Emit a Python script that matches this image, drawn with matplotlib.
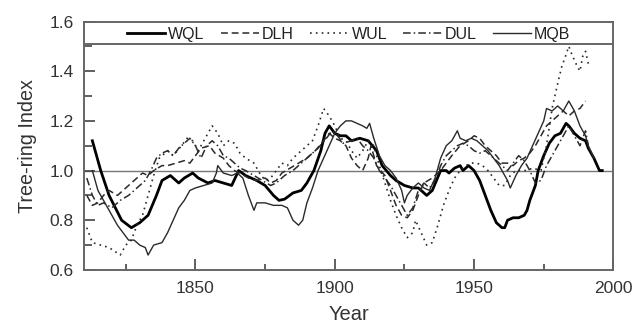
import matplotlib
matplotlib.use("Agg")
import matplotlib.pyplot as plt
import numpy as np

plt.rcParams['font.family'] = ['Liberation Sans', 'DejaVu Sans']

# ---------------- data ----------------
wql_years = [1813, 1816, 1819, 1823.5, 1827, 1830, 1833, 1836, 1838, 1841, 1844, 1846, 1849, 1851, 1854.5,
             1857, 1860, 1863, 1865.5, 1868, 1872, 1875, 1878, 1880, 1882, 1885, 1888, 1890, 1892.5,
             1895, 1896.5, 1898, 1900, 1902, 1904, 1906, 1909, 1912, 1915, 1917, 1920, 1922, 1925,
             1928, 1930, 1932, 1933, 1935, 1936.5, 1938, 1940, 1941, 1943, 1945, 1946, 1948, 1950,
             1952, 1954, 1956, 1958, 1960, 1961, 1962, 1964, 1966, 1968, 1969, 1970, 1972, 1973,
             1975, 1977, 1979, 1981, 1983, 1984, 1986, 1988, 1990, 1991, 1993, 1995, 1996]
wql_vals = [1.12, 1.00, 0.90, 0.80, 0.77, 0.79, 0.82, 0.90, 0.96, 0.98, 0.95, 0.97, 0.99, 0.97, 0.95,
            0.96, 0.95, 0.94, 1.00, 0.98, 0.96, 0.94, 0.90, 0.88, 0.885, 0.91, 0.92, 0.95, 1.00,
            1.08, 1.15, 1.18, 1.15, 1.14, 1.14, 1.12, 1.13, 1.12, 1.08, 1.02, 0.98, 0.96, 0.94,
            0.93, 0.93, 0.91, 0.90, 0.92, 0.96, 1.00, 1.00, 0.99, 1.01, 1.02, 1.00, 1.02, 1.00,
            0.96, 0.90, 0.84, 0.79, 0.77, 0.77, 0.80, 0.81, 0.81, 0.82, 0.84, 0.88, 0.94, 1.00,
            1.06, 1.11, 1.14, 1.15, 1.19, 1.18, 1.15, 1.13, 1.12, 1.09, 1.05, 1.00, 1.00]

dlh_years = [1811, 1813, 1815, 1817, 1819, 1822, 1825, 1828, 1831, 1833, 1835, 1838, 1840, 1843, 1846,
             1848, 1850, 1852, 1855, 1857, 1860, 1862, 1864, 1866, 1869, 1872, 1875, 1877, 1879,
             1881, 1884, 1887, 1890, 1893, 1896, 1898, 1900, 1902, 1904, 1906, 1908, 1910, 1912,
             1913, 1915, 1918, 1920, 1922, 1924, 1926, 1928, 1930, 1932, 1935, 1938, 1940, 1942,
             1945, 1948, 1950, 1952, 1954, 1956, 1958, 1960, 1962, 1964, 1966, 1968, 1970, 1972,
             1974, 1976, 1978, 1980, 1982, 1984, 1986, 1988, 1990]
dlh_vals = [0.90, 0.86, 0.87, 0.90, 0.92, 0.90, 0.93, 0.96, 0.99, 0.98, 1.00, 1.02, 1.02, 1.03, 1.04,
            1.03, 1.06, 1.09, 1.10, 1.07, 1.05, 1.02, 1.00, 0.99, 0.97, 0.96, 0.97, 0.95, 0.96,
            0.99, 1.01, 1.03, 1.05, 1.08, 1.12, 1.15, 1.13, 1.12, 1.10, 1.05, 1.02, 1.00, 1.05,
            1.10, 1.02, 0.98, 0.92, 0.86, 0.82, 0.81, 0.84, 0.90, 0.95, 0.97, 1.00, 1.03, 1.06,
            1.10, 1.12, 1.14, 1.13, 1.10, 1.08, 1.06, 1.03, 1.03, 1.02, 1.04, 1.05, 1.07, 1.10,
            1.14, 1.18, 1.20, 1.22, 1.24, 1.22, 1.24, 1.25, 1.28]

wul_years = [1811, 1813, 1816, 1819, 1823, 1825, 1827, 1829, 1831, 1833, 1835, 1837, 1840, 1842, 1845,
             1847, 1849, 1851, 1854, 1856, 1858, 1860, 1862, 1864, 1866, 1868, 1871, 1873, 1875,
             1877, 1879, 1881, 1883, 1885, 1888, 1890, 1892, 1894, 1896, 1898, 1900, 1902, 1904,
             1906, 1908, 1910, 1912, 1914, 1916, 1918, 1920, 1922, 1924, 1926, 1928, 1929, 1931,
             1933, 1935, 1937, 1939, 1941, 1943, 1945, 1947, 1949, 1951, 1953, 1955, 1957, 1959,
             1961, 1963, 1965, 1967, 1969, 1971, 1974, 1976, 1978, 1980, 1981.5, 1982.5, 1984,
             1985, 1987, 1988, 1989, 1990, 1991]
wul_vals = [0.77, 0.71, 0.70, 0.69, 0.66, 0.70, 0.72, 0.78, 0.82, 0.90, 0.98, 1.05, 1.08, 1.06, 1.10,
            1.13, 1.12, 1.08, 1.14, 1.18, 1.15, 1.10, 1.12, 1.11, 1.07, 1.05, 1.03, 0.99, 0.96,
            0.97, 1.00, 1.03, 1.02, 1.05, 1.08, 1.10, 1.12, 1.18, 1.25, 1.22, 1.18, 1.13, 1.12,
            1.08, 1.05, 1.08, 1.12, 1.10, 1.02, 0.95, 0.88, 0.82, 0.77, 0.73, 0.75, 0.80, 0.75,
            0.70, 0.71, 0.78, 0.86, 0.92, 0.97, 1.00, 1.02, 1.03, 1.03, 1.02, 1.00, 0.97, 0.94,
            0.94, 0.98, 1.00, 1.00, 1.00, 1.01, 1.00, 1.10, 1.25, 1.35, 1.42, 1.45, 1.50,
            1.47, 1.42, 1.40, 1.46, 1.48, 1.43]

dul_years = [1811, 1813, 1815, 1817, 1820, 1823, 1826, 1829, 1832, 1834, 1836, 1838, 1840, 1842, 1844,
             1846, 1848, 1850, 1852, 1854, 1856, 1858, 1860, 1862, 1864, 1866, 1868, 1871, 1874,
             1877, 1879, 1882, 1885, 1888, 1891, 1894, 1897, 1899, 1901, 1903, 1906, 1908, 1910,
             1912, 1914, 1916, 1918, 1920, 1922, 1924, 1926, 1928, 1930, 1932, 1934, 1936, 1938,
             1940, 1942, 1944, 1946, 1948, 1950, 1952, 1954, 1956, 1958, 1960, 1962, 1964, 1966,
             1968, 1970, 1972, 1974, 1976, 1978, 1980, 1982, 1984, 1986, 1988, 1990, 1991]
dul_vals = [0.97, 0.90, 0.86, 0.87, 0.85, 0.88, 0.90, 0.93, 0.96, 1.00, 1.05, 1.07, 1.08, 1.06, 1.09,
            1.11, 1.13, 1.10, 1.05, 1.10, 1.12, 1.10, 1.06, 1.05, 1.03, 1.01, 1.00, 0.98, 0.96,
            0.94, 0.95, 0.98, 1.00, 1.03, 1.06, 1.09, 1.13, 1.16, 1.14, 1.11, 1.12, 1.13, 1.10,
            1.08, 1.05, 1.00, 0.97, 0.94, 0.90, 0.86, 0.82, 0.85, 0.92, 0.95, 0.93, 0.96, 1.02,
            1.06, 1.08, 1.10, 1.11, 1.10, 1.08, 1.07, 1.08, 1.06, 1.04, 1.02, 1.00, 1.03, 1.06,
            1.04, 1.00, 0.95, 0.96, 1.02, 1.06, 1.10, 1.14, 1.18, 1.14, 1.10, 1.16, 1.10]

mqb_years = [1813, 1815, 1817, 1819, 1822, 1824, 1826, 1828, 1830, 1832, 1833, 1835, 1838, 1840, 1842,
             1844, 1846, 1848, 1850, 1853, 1856, 1857.5, 1858, 1860, 1863, 1865, 1867, 1869, 1871,
             1872, 1875, 1878, 1881, 1883, 1885, 1887, 1888.5, 1890, 1892, 1894, 1896, 1898, 1900,
             1902, 1904, 1906, 1908, 1910, 1911.5, 1912.5, 1914, 1916, 1918, 1920, 1922, 1924, 1925,
             1926, 1928, 1930, 1932, 1934, 1936, 1938, 1940, 1942, 1944, 1945, 1947, 1949, 1951,
             1953, 1955, 1957, 1959, 1960, 1962, 1963, 1965, 1967, 1969, 1971, 1973, 1975, 1976,
             1978, 1980, 1982, 1984, 1986, 1988, 1990, 1991, 1993]
mqb_vals = [1.00, 0.92, 0.88, 0.84, 0.78, 0.75, 0.72, 0.72, 0.70, 0.69, 0.66, 0.70, 0.71, 0.75, 0.80,
            0.85, 0.88, 0.92, 0.93, 0.94, 0.95, 0.99, 1.02, 0.99, 0.98, 0.99, 0.97, 0.90, 0.84,
            0.87, 0.87, 0.86, 0.86, 0.85, 0.80, 0.78, 0.80, 0.87, 0.93, 1.00, 1.05, 1.10, 1.15,
            1.18, 1.20, 1.20, 1.19, 1.18, 1.17, 1.19, 1.13, 1.06, 1.02, 1.00, 0.97, 0.92, 0.87,
            0.90, 0.93, 0.95, 0.93, 0.92, 0.97, 1.05, 1.10, 1.12, 1.16, 1.13, 1.12, 1.13, 1.12,
            1.10, 1.08, 1.05, 1.02, 1.00, 0.96, 0.93, 0.98, 1.02, 1.05, 1.10, 1.15, 1.20, 1.25,
            1.24, 1.26, 1.24, 1.28, 1.24, 1.18, 1.14, 1.10, 1.05]

labels = ["WQL", "DLH", "WUL", "DUL", "MQB"]
x_ticks = [1850, 1900, 1950, 2000]
y_ticks = [0.6, 0.8, 1.0, 1.2, 1.4, 1.6]

# ---------------- plot ----------------
fig = plt.figure(figsize=(6.34, 3.26), dpi=100)
ax = fig.add_axes([0.1325, 0.172, 0.835, 0.762])

ink = '#2a2a2a'
ax.plot(wql_years, wql_vals, color='black', lw=2.0, label=labels[0])
ax.plot(dlh_years, dlh_vals, color=ink, lw=1.1, linestyle=(0, (4.5, 2.5)), label=labels[1])
ax.plot(wul_years, wul_vals, color=ink, lw=1.2, linestyle=(0, (1, 2.5)), label=labels[2])
ax.plot(dul_years, dul_vals, color=ink, lw=1.1, linestyle=(0, (5, 2, 1, 2)), label=labels[3])
ax.plot(mqb_years, mqb_vals, color=ink, lw=1.0, label=labels[4])

ax.axhline(1.0, color='#777777', lw=1.0, zorder=0)
ax.axhline(1.51, color='#666666', lw=1.4, zorder=0)

ax.set_xlim(1810, 2000)
ax.set_ylim(0.6, 1.6)
ax.set_xticks(x_ticks)
ax.set_xticks([1825, 1875, 1925, 1975], minor=True)
ax.set_yticks(y_ticks)
ax.set_yticks([0.7, 0.9, 1.1, 1.3, 1.5], minor=True)
ax.set_yticklabels([f"{v:.1f}" for v in y_ticks])

ax.tick_params(axis='both', which='both', direction='in', colors='#444444',
               labelcolor='#333333', labelsize=12.5, width=1.2)
ax.tick_params(axis='x', which='major', length=8, pad=8)
ax.tick_params(axis='x', which='minor', length=4)
ax.tick_params(axis='y', which='major', length=8, pad=7.5)
ax.tick_params(axis='y', which='minor', length=6)
ax.tick_params(top=False, right=False)

for s in ax.spines.values():
    s.set_color('#666666')
    s.set_linewidth(1.4)

ax.set_xlabel("Year", fontsize=14.5, color='#333333', labelpad=6.5)
ax.set_ylabel("Tree-ring Index", fontsize=14.2, color='#333333', labelpad=9)

leg = ax.legend(ncol=5, loc='center', bbox_to_anchor=(0.5, 0.948), frameon=False,
                fontsize=11.5, handlelength=2.4, handletextpad=0.2, columnspacing=1.0,
                borderaxespad=0, labelcolor='#222222')

fig.savefig("out.png", dpi=100)
